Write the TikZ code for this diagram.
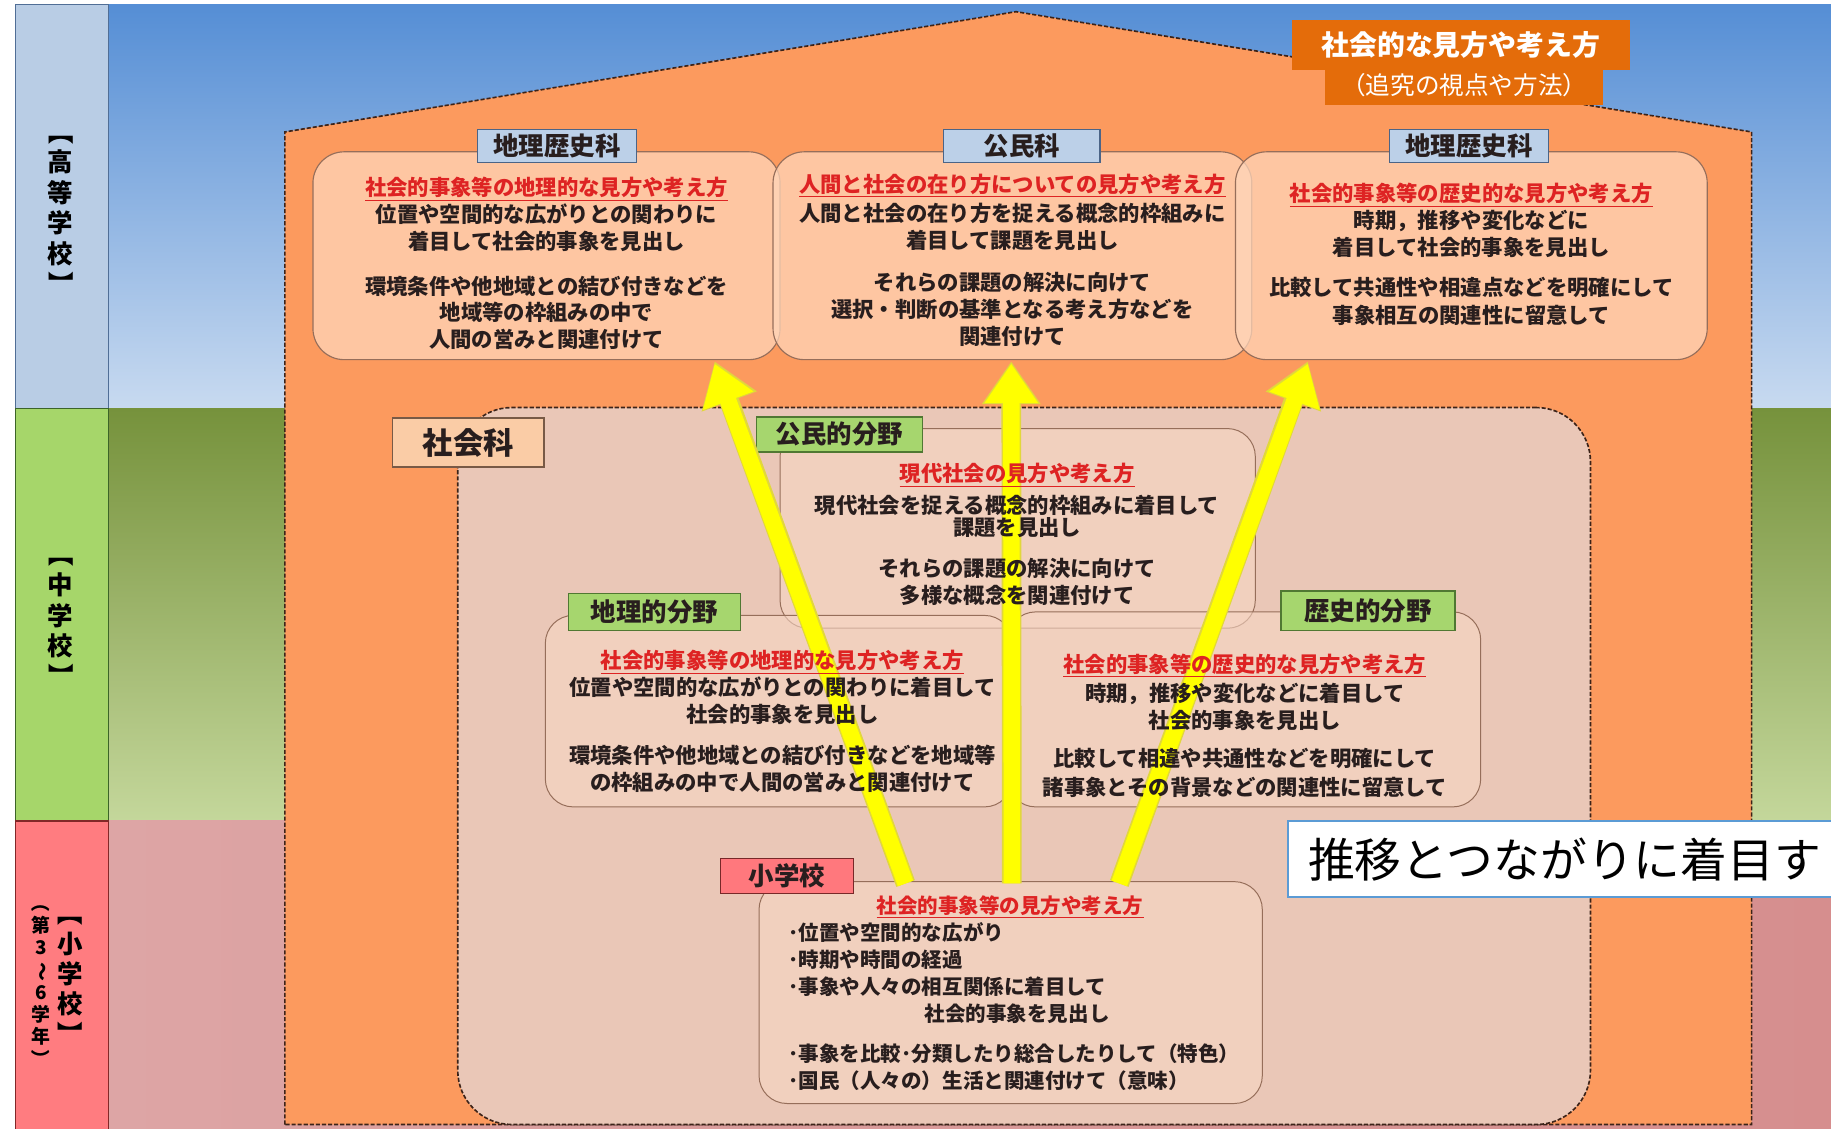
\documentclass[tikz,border=0pt]{standalone}
\usepackage{fontspec}
\newfontfamily\jp{Noto Sans CJK JP}
\usetikzlibrary{calc,fit,arrows.meta}
\definecolor{skyTop}{RGB}{85,142,213}
\definecolor{skyBot}{RGB}{200,218,240}
\definecolor{grdTop}{RGB}{118,146,60}
\definecolor{grdBot}{RGB}{196,215,155}
\definecolor{pinkL}{RGB}{221,165,165}
\definecolor{pinkR}{RGB}{214,142,142}
\definecolor{stripHS}{RGB}{185,205,229}
\definecolor{stripHSline}{RGB}{80,110,150}
\definecolor{stripMS}{RGB}{166,214,106}
\definecolor{stripMSline}{RGB}{60,100,40}
\definecolor{stripES}{RGB}{255,124,128}
\definecolor{stripESline}{RGB}{130,40,40}
\definecolor{houseOr}{RGB}{252,154,94}
\definecolor{labelOr}{RGB}{228,108,10}
\definecolor{hsFill}{RGB}{255,214,186}
\definecolor{regionFill}{RGB}{234,199,183}
\definecolor{msFill}{RGB}{246,214,196}
\definecolor{boxLine}{RGB}{150,110,90}
\definecolor{tabBlue}{RGB}{188,208,232}
\definecolor{tabBlueLine}{RGB}{75,100,135}
\definecolor{tabGreen}{RGB}{166,214,110}
\definecolor{tabGreenLine}{RGB}{80,120,50}
\definecolor{tabRed}{RGB}{255,120,125}
\definecolor{tabRedLine}{RGB}{120,40,40}
\definecolor{redTxt}{RGB}{222,35,35}
\definecolor{txt}{RGB}{40,30,30}
\definecolor{shaLabel}{RGB}{250,204,166}
\definecolor{shaLine}{RGB}{120,90,70}
\definecolor{noteLine}{RGB}{91,155,213}
\definecolor{dashC}{RGB}{60,35,25}
\definecolor{arrowY}{RGB}{255,255,0}
\definecolor{arrowEdge}{RGB}{225,215,60}
\newcommand\redul[1]{\textcolor{redTxt}{\underline{#1}}}
\newcommand\vbr[1]{\rotatebox[origin=c]{-90}{#1}}
\tikzset{
  body/.style={font=\jp\bfseries\fontsize{13}{16.4}\selectfont, text=txt, align=center, inner sep=0pt},
  elbody/.style={font=\jp\bfseries\fontsize{12.5}{16.4}\selectfont, text=txt, inner sep=0pt},
  hsbox/.style={draw=boxLine, line width=0.7pt, fill=hsFill, fill opacity=0.75, rounded corners=19pt, inner sep=0pt},
  msbox/.style={draw=boxLine, line width=0.6pt, fill=msFill, fill opacity=0.6, rounded corners=17pt, inner sep=0pt},
  tabtxt/.style={font=\jp\bfseries\fontsize{15.5}{18}\selectfont, inner sep=0pt, text=txt},
  tabshape/.style={inner sep=0pt, line width=0.8pt},
  hstab/.style={tabshape, fill=tabBlue, draw=tabBlueLine},
  mstab/.style={tabshape, fill=tabGreen, draw=tabGreenLine},
  estab/.style={tabshape, fill=tabRed, draw=tabRedLine},
  housedash/.style={draw=dashC, dash pattern=on 2.5pt off 1.2pt, line width=1pt},
  arrowback/.style={draw=arrowEdge, line width=12pt, -{Triangle[width=34pt,length=26pt]}},
  bigarrow/.style={draw=arrowY, line width=10pt, -{Triangle[width=31pt,length=24pt]}},
  vlab/.style={font=\jp\bfseries\fontsize{15.5}{18.5}\selectfont, align=center, inner sep=0pt, text=black},
  vlabsmall/.style={font=\jp\bfseries\fontsize{11.5}{13.5}\selectfont, align=center, inner sep=0pt, text=black},
  strip/.style={inner sep=0pt, line width=0.8pt}
}
\begin{document}
\begin{tikzpicture}[x=0.025cm, y=-0.025cm]
\useasboundingbox (0,0) rectangle (1568,966);
\clip (0,0) rectangle (1568,966);
\fill[white] (0,0) rectangle (1568,966);
% background bands
\shade[top color=skyTop, bottom color=skyBot] (93,4) rectangle (1568,350);
\shade[top color=grdTop, bottom color=grdBot] (93,350) rectangle (1568,703);
\shade[left color=pinkL, right color=pinkR] (93,703) rectangle (1568,966);
% left strips
\node[strip, fit={(13,4)(93,350)}, fill=stripHS, draw=stripHSline] (sHS) {};
\node[strip, fit={(13,350)(93,703)}, fill=stripMS, draw=stripMSline] (sMS) {};
\node[strip, fit={(13,703)(93,970)}, fill=stripES, draw=stripESline] (sES) {};
\node[vlab] (lHS) at (52,178) {\vbr{【}\\ 高\\ 等\\ 学\\ 校\\ \vbr{】}};
\node[vlab] (lMS) at (52,527) {\vbr{【}\\ 中\\ 学\\ 校\\ \vbr{】}};
\node[vlab] (lES1) at (60,834) {\vbr{【}\\ 小\\ 学\\ 校\\ \vbr{】}};
\node[vlabsmall] (lES2) at (35,840) {\vbr{（}\\ 第\\ 3\\ \vbr{～}\\ 6\\ 学\\ 年\\ \vbr{）}};
% house
\draw[housedash, fill=houseOr] (244,963) -- (244,113) -- (870,10) -- (1500,113) -- (1500,963) -- cycle;
% top-right label
\node[fill=labelOr, fit={(1135,58)(1373,90)}, inner sep=0pt] (lab2) {};
\node[fill=labelOr, fit={(1106,17)(1396,60)}, inner sep=0pt] (lab1) {};
\node[text=white, inner sep=0pt, font=\jp\bfseries\fontsize{17}{19}\selectfont] (lab1t) at (lab1.center) {社会的な見方や考え方};
\node[text=white, inner sep=0pt, font=\jp\fontsize{15}{17}\selectfont] (lab2t) at ($(lab2.center)+(0,-1)$) {（追究の視点や方法）};
% high-school boxes
\node[hsbox, fit={(268,130)(668,308)}] (hsL) {};
\node[hsbox, fit={(662,130)(1072,308)}] (hsM) {};
\node[hsbox, fit={(1058,130)(1462,308)}] (hsR) {};
\node[hstab, fit={(409,111)(545,139)}] (tHL) {};
\node[hstab, fit={(808,111)(942,139)}] (tHM) {};
\node[hstab, fit={(1190,111)(1326,139)}] (tHR) {};
\node[tabtxt] (tHLt) at (tHL.center) {地理歴史科};
\node[tabtxt] (tHMt) at (tHM.center) {公民科};
\node[tabtxt] (tHRt) at (tHR.center) {地理歴史科};
% social studies region
\node[fit={(392,349)(1362,963)}, inner sep=0pt, housedash, fill=regionFill, rounded corners=33pt] (region) {};
\node[fit={(336,358)(466,400)}, inner sep=0pt, fill=shaLabel, draw=shaLine, line width=1pt] (shaka) {};
\node[inner sep=0pt, text=txt, font=\jp\bfseries\fontsize{18.5}{20}\selectfont] (shakat) at (shaka.center) {社会科};
% middle-school boxes
\node[msbox, fit={(668,367)(1075,538)}] (msK) {};
\node[msbox, fit={(467,527)(867,691)}] (msG) {};
\node[msbox, fit={(863,524)(1268,691)}] (msH) {};
\node[mstab, fit={(648,357)(790,387)}] (tK) {};
\node[mstab, fit={(487,508)(634,540)}] (tG) {};
\node[mstab, fit={(1097,506)(1246,540)}] (tH) {};
\node[tabtxt] (tKt) at (tK.center) {公民的分野};
\node[tabtxt] (tGt) at (tG.center) {地理的分野};
\node[tabtxt] (tHt) at (tH.center) {歴史的分野};
% elementary box
\node[msbox, fit={(650,755)(1081,945)}] (el) {};
\node[estab, fit={(617,735)(731,765)}] (tE) {};
\node[tabtxt] (tEt) at (tE.center) {小学校};
% arrows
\draw[arrowback] ($(el.north)+(-90,2)$) -- ($(hsL.south)+(144,1)$);
\draw[arrowback] ($(el.north)+(1,2)$) -- ($(hsM.south)+(-1,1)$);
\draw[arrowback] ($(el.north)+(93,2)$) -- ($(hsR.south)+(-140,1)$);
\draw[bigarrow] ($(el.north)+(-90,2)$) -- ($(hsL.south)+(144,3)$);
\draw[bigarrow] ($(el.north)+(1,2)$) -- ($(hsM.south)+(-1,3)$);
\draw[bigarrow] ($(el.north)+(93,2)$) -- ($(hsR.south)+(-140,3)$);
% texts high school
\node[body, anchor=north] (xHL) at (468,151.5) {\redul{社会的事象等の地理的な見方や考え方}\\ 位置や空間的な広がりとの関わりに\\ 着目して社会的事象を見出し\\[10.7pt] 環境条件や他地域との結び付きなどを\\ 地域等の枠組みの中で\\ 人間の営みと関連付けて};
\node[body, anchor=north] (xHM) at (867,148.5) {\redul{人間と社会の在り方についての見方や考え方}\\[1.4pt] 人間と社会の在り方を捉える概念的枠組みに\\ 着目して課題を見出し\\[9.2pt] それらの課題の解決に向けて\\ 選択・判断の基準となる考え方などを\\ 関連付けて};
\node[body, anchor=north] (xHR) at (1260,156.5) {\redul{社会的事象等の歴史的な見方や考え方}\\ 時期，推移や変化などに\\ 着目して社会的事象を見出し\\[7.8pt] 比較して共通性や相違点などを明確にして\\[1pt] 事象相互の関連性に留意して};
% texts middle school
\node[body, anchor=north] (xK) at (871,396.5) {\redul{現代社会の見方や考え方}\\[2.8pt] 現代社会を捉える概念的枠組みに着目して\\[-2.8pt] 課題を見出し\\[8.5pt] それらの課題の解決に向けて\\ 多様な概念を関連付けて};
\node[body, anchor=north] (xG) at (670,556.5) {\redul{社会的事象等の地理的な見方や考え方}\\ 位置や空間的な広がりとの関わりに着目して\\ 社会的事象を見出し\\[8.5pt] 環境条件や他地域との結び付きなどを地域等\\ の枠組みの中で人間の営みと関連付けて};
\node[body, anchor=north] (xH) at (1066,559.5) {\redul{社会的事象等の歴史的な見方や考え方}\\[1.4pt] 時期，推移や変化などに着目して\\ 社会的事象を見出し\\[7pt] 比較して相違や共通性などを明確にして\\[1pt] 諸事象とその背景などの関連性に留意して};
% texts elementary
\node[elbody, anchor=north] (xE1) at (865,766.5) {\redul{社会的事象等の見方や考え方}};
\node[elbody, align=left, anchor=north west] (xE2) at (675,789.5) {･位置や空間的な広がり\\ ･時期や時間の経過\\ ･事象や人々の相互関係に着目して\\ \hspace*{83pt}社会的事象を見出し\\[8.5pt] ･事象を比較･分類したり総合したりして（特色）\\ ･国民（人々の）生活と関連付けて（意味）};
% note box
\node[fit={(1103,703)(1600,768)}, inner sep=0pt, fill=white, draw=noteLine, line width=1.1pt] (note) {};
\node[anchor=west, font=\jp\fontsize{28.5}{30}\selectfont, inner sep=0pt, text=black] (noteTxt) at (1120,736) {推移とつながりに着目す};
\end{tikzpicture}
\end{document}
